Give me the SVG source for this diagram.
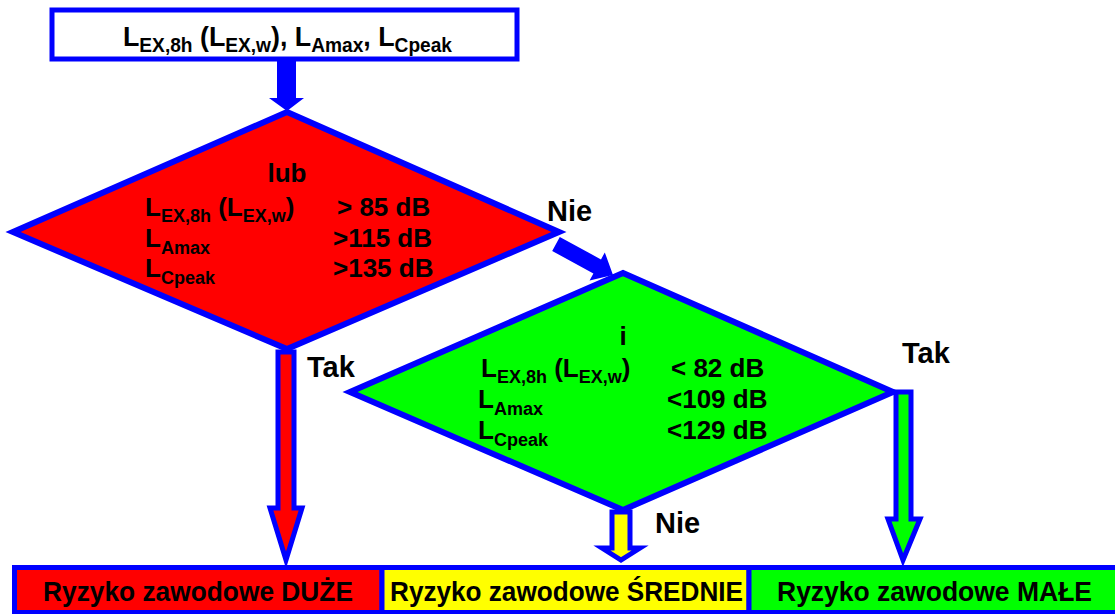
<svg xmlns="http://www.w3.org/2000/svg" width="1115" height="614" viewBox="0 0 1115 614">
<style>
text{font-family:"Liberation Sans",Arial,sans-serif;font-weight:bold;fill:#000}
.ln{stroke:#0000FF;stroke-width:5;stroke-linejoin:miter}
.dm{stroke:#0000FF;stroke-width:6;stroke-linejoin:miter}
.t26{font-size:26px}
.sub{font-size:18px}
.lbl{font-size:29px}
.bar{font-size:28px}
</style>
<rect width="1115" height="614" fill="#FFFFFF"/>
<g id="connectors">
<polygon id="arrow-start" fill="#0000FF" points="277,61 296,61 296,98 304,98 287,111 269,98 277,98"/>
</g>
<g id="start">
<rect x="52" y="10" width="465" height="49" fill="#FFFFFF" class="ln"/>
<text x="123" y="46" font-size="28" textLength="329" lengthAdjust="spacingAndGlyphs">L<tspan font-size="20" dy="6">EX,8h</tspan><tspan dy="-6"> (L</tspan><tspan font-size="20" dy="6">EX,w</tspan><tspan dy="-6">), L</tspan><tspan font-size="20" dy="6">Amax</tspan><tspan dy="-6">, L</tspan><tspan font-size="20" dy="6">Cpeak</tspan></text>
</g>
<g id="decision-high">
<polygon class="dm" fill="#FF0000" points="287,112 559,232 287,349 13,232"/>
<text x="287" y="182" class="t26" text-anchor="middle">lub</text>
<text x="145" y="216" class="t26">L<tspan class="sub" dy="6">EX,8h</tspan><tspan dy="-6"> (L</tspan><tspan class="sub" dy="6">EX,w</tspan><tspan dy="-6">)</tspan></text>
<text x="145" y="247" class="t26">L<tspan class="sub" dy="7">Amax</tspan></text>
<text x="145" y="277" class="t26">L<tspan class="sub" dy="7">Cpeak</tspan></text>
<text x="337" y="216" class="t26">&gt; 85 dB</text>
<text x="333" y="247" class="t26">&gt;115 dB</text>
<text x="333" y="277" class="t26">&gt;135 dB</text>
</g>
<g id="decision-low">
<polygon class="dm" fill="#00FF00" points="623,273 893,392 623,510 350,392"/>
<text x="623" y="345" class="t26" text-anchor="middle">i</text>
<text x="481" y="377" class="t26">L<tspan class="sub" dy="6">EX,8h</tspan><tspan dy="-6"> (L</tspan><tspan class="sub" dy="6">EX,w</tspan><tspan dy="-6">)</tspan></text>
<text x="478" y="408" class="t26">L<tspan class="sub" dy="7">Amax</tspan></text>
<text x="478" y="439" class="t26">L<tspan class="sub" dy="7">Cpeak</tspan></text>
<text x="671" y="377" class="t26">&lt; 82 dB</text>
<text x="667" y="408" class="t26">&lt;109 dB</text>
<text x="667" y="439" class="t26">&lt;129 dB</text>
</g>
<g id="connectors-2">
<polygon id="arrow-nie1" fill="#0000FF" points="559.8,237 601,259.4 604.8,252.4 613,275 589.6,280.4 593.4,273.4 552.2,251"/>
<polygon id="arrow-tak1" class="ln" fill="#FF0000" points="278,352 294,352 294,508 302,508 286,560 270,508 278,508"/>
<polygon id="arrow-tak2" class="ln" fill="#00FF00" points="896,392 911,392 911,519 920,519 903,560 888,519 896,519"/>
<polygon id="arrow-nie2" class="ln" fill="#FFFF00" points="612,512 630,512 630,548 640,548 621,560 602,548 612,548"/>
<text x="547" y="221" class="lbl">Nie</text>
<text x="307" y="377" class="lbl">Tak</text>
<text x="902" y="363" class="lbl">Tak</text>
<text x="655" y="533" class="lbl">Nie</text>
</g>
<g id="risk-high">
<rect x="14.5" y="567.5" width="367.5" height="45" fill="#FF0000" class="ln"/>
<text x="43" y="601" class="bar" textLength="310" lengthAdjust="spacingAndGlyphs">Ryzyko zawodowe DUŻE</text>
</g>
<g id="risk-medium">
<rect x="382" y="567.5" width="367" height="45" fill="#FFFF00" class="ln"/>
<text x="390" y="601" class="bar" textLength="353" lengthAdjust="spacingAndGlyphs">Ryzyko zawodowe ŚREDNIE</text>
</g>
<g id="risk-low">
<rect x="749" y="567.5" width="372" height="45" fill="#00FF00" class="ln"/>
<text x="777" y="601" class="bar" textLength="315" lengthAdjust="spacingAndGlyphs">Ryzyko zawodowe MAŁE</text>
</g>
</svg>
